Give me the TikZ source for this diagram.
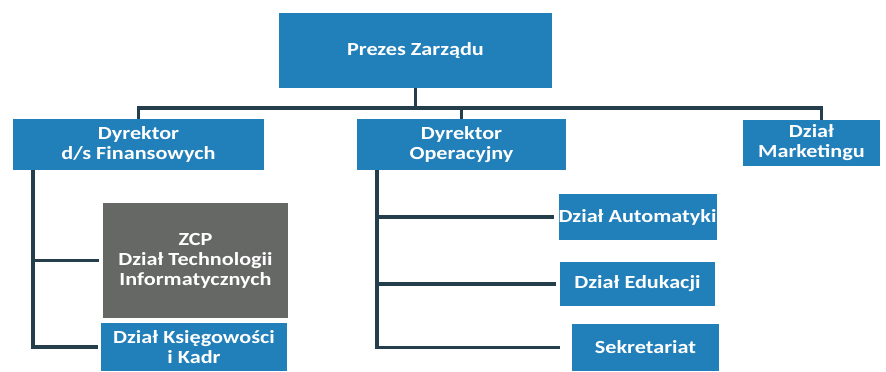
\documentclass[tikz,border=0pt]{standalone}
\usepackage{fontspec}
\setmainfont[FakeStretch=1.2]{Carlito}
\usepackage{tikz}
\usetikzlibrary{positioning}

\definecolor{boxblue}{RGB}{33,127,186}
\definecolor{boxgray}{RGB}{102,104,102}
\definecolor{linkcol}{RGB}{36,62,76}

\begin{document}
\begin{tikzpicture}[x=1pt,y=-1pt, % pixel-like units
	link/.style={draw=linkcol,line width=3.4pt}, % connector style
	every node/.style={rectangle,fill=boxblue,text=white,align=center,
		inner sep=0pt,font=\bfseries\fontsize{18.5}{20}\selectfont}]
	\useasboundingbox (0,0) rectangle (886,372);
	\node[minimum width=273pt,minimum height=75pt] (prezes) at (415.5,50.5) {Prezes Zarządu};
	\node[minimum width=251pt,minimum height=51pt] (fin) at (138.5,144.5) {Dyrektor\\d/s Finansowych};
	\node[minimum width=209pt,minimum height=51pt] (ope) at (461.5,144.5) {Dyrektor\\Operacyjny};
	\node[minimum width=137pt,minimum height=46pt] (mkt) at (811.5,143) {Dział\\Marketingu};
	\node[fill=boxgray,minimum width=185pt,minimum height=115pt] (zcp) at (195.5,260.5) {ZCP\\Dział Technologii\\Informatycznych};
	\node[minimum width=186pt,minimum height=48pt] (ksieg) at (194,347) {Dział Księgowości\\i Kadr};
	\node[minimum width=155pt,minimum height=46pt] (auto) at (637.5,217) {Dział Automatyki};
	\node[minimum width=155pt,minimum height=44pt] (edu) at (637.5,284) {Dział Edukacji};
	\node[minimum width=147pt,minimum height=47pt] (sekr) at (645.5,347.5) {Sekretariat};
	\coordinate (hub) at (415.5,108);
	\draw[link] (prezes.south) -- (hub);
	\draw[link] (hub) -| (fin.north);
	\draw[link] (hub) -| (ope.north);
	\draw[link] (hub) -| ([xshift=10pt]mkt.north);
	\draw[link,shorten >=4pt] ([xshift=20pt]fin.south west) |- (zcp.west);
	\draw[link,shorten >=3pt] ([xshift=20pt]fin.south west) |- (ksieg.west);
	\draw[link,shorten >=4pt] ([xshift=20pt]ope.south west) |- (auto.west);
	\draw[link,shorten >=4pt] ([xshift=20pt]ope.south west) |- (edu.west);
	\draw[link,shorten >=12pt] ([xshift=20pt]ope.south west) |- (sekr.west);
\end{tikzpicture}
\end{document}
